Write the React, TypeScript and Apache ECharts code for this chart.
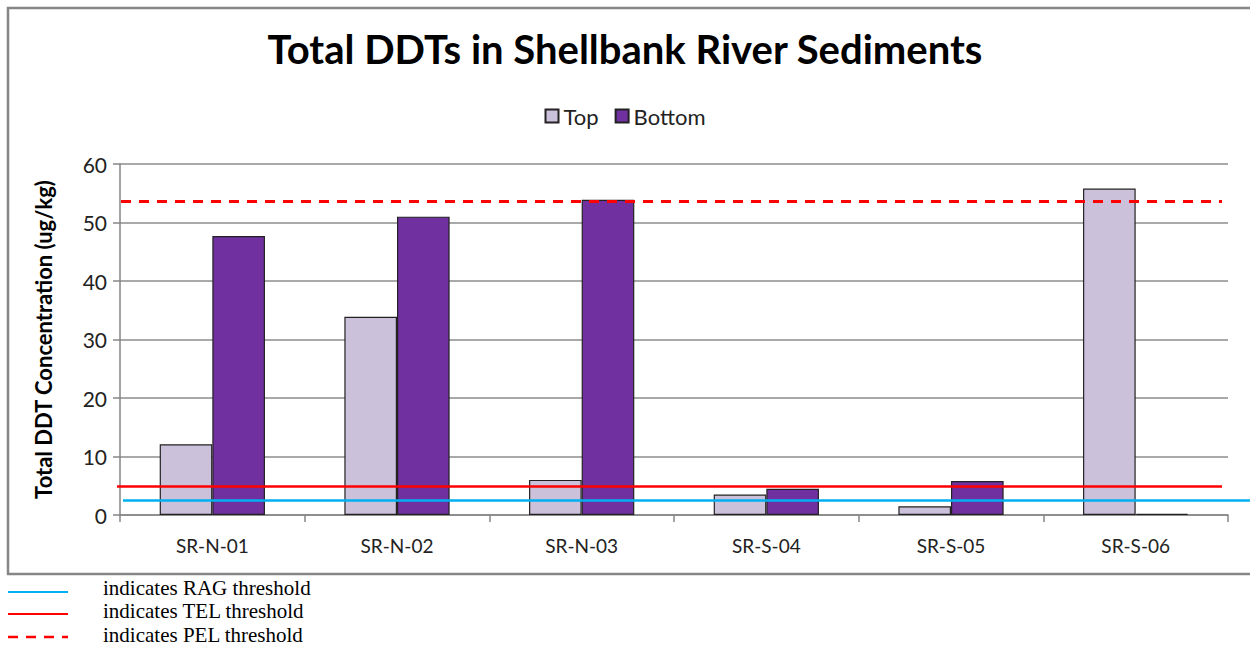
import React, { useEffect, useRef } from 'react';
import * as echarts from 'echarts';

const categories = ['SR-N-01', 'SR-N-02', 'SR-N-03', 'SR-S-04', 'SR-S-05', 'SR-S-06'];
const topValues = [12.1, 33.9, 6.0, 3.5, 1.5, 55.8];
const bottomValues = [47.7, 51.0, 53.9, 4.5, 5.8, 0.2];
const ragThreshold = 2.5;
const telThreshold = 4.9;
const pelThreshold = 53.6;
const yMin = 0;
const yMax = 60;
const yInterval = 10;
const noteLabels = ['indicates RAG threshold', 'indicates TEL threshold', 'indicates PEL threshold'];

const FONT = 'Lato';

export default function App() {
  const ref = useRef<HTMLDivElement>(null);
  useEffect(() => {
    if (!ref.current) return;
    const chart = echarts.init(ref.current, undefined, { renderer: 'svg' });
    const noteLineY = [592, 614, 637];
    const noteTextY = [588, 611, 635];
    const noteStyles = [
      { stroke: '#00B0F0', lineWidth: 2, lineDash: undefined as any },
      { stroke: '#FF0000', lineWidth: 2, lineDash: undefined as any },
      { stroke: '#FF0000', lineWidth: 2.5, lineDash: [10, 8] },
    ];
    const graphics: any[] = [
      {
        type: 'rect',
        shape: { x: 8, y: 8, width: 1262, height: 566 },
        style: { fill: 'none', stroke: '#868686', lineWidth: 2.5 },
        z: -1,
        silent: true,
      },
    ];
    noteLabels.forEach((t, i) => {
      graphics.push({
        type: 'line',
        shape: { x1: 8, y1: noteLineY[i], x2: 68, y2: noteLineY[i] },
        style: noteStyles[i],
      });
      graphics.push({
        type: 'text',
        x: 103,
        y: noteTextY[i],
        style: {
          text: t,
          font: '21px "Liberation Serif"',
          fill: '#000',
          verticalAlign: 'middle',
        },
      });
    });

    chart.setOption({
      animation: false,
      title: {
        text: 'Total DDTs in Shellbank River Sediments',
        left: 'center',
        top: 24,
        textStyle: { fontFamily: FONT, fontSize: 40, fontWeight: 'bold', color: '#000' },
      },
      legend: {
        data: ['Top', 'Bottom'],
        top: 100,
        left: 'center',
        itemWidth: 13,
        itemHeight: 13,
        itemGap: 16,
        icon: 'rect',
        textStyle: { fontFamily: FONT, fontSize: 22, color: '#222', padding: [0, 0, 0, 0] },
      },
      grid: { left: 120, right: 22, top: 164, bottom: 132 },
      xAxis: {
        type: 'category',
        data: categories,
        axisLine: { lineStyle: { color: '#868686', width: 1.5 } },
        axisTick: { show: true, length: 7, lineStyle: { color: '#868686', width: 1.5 } },
        axisLabel: { fontFamily: FONT, fontSize: 19, color: '#222', margin: 21 },
      },
      yAxis: {
        type: 'value',
        min: yMin,
        max: yMax,
        interval: yInterval,
        name: 'Total DDT Concentration (ug/kg)',
        nameLocation: 'middle',
        nameGap: 66,
        nameTextStyle: { fontFamily: FONT, fontSize: 22, fontWeight: 'bold', color: '#000' },
        axisLine: { show: true, lineStyle: { color: '#868686', width: 1.5 } },
        axisTick: { show: true, length: 7, lineStyle: { color: '#868686', width: 1.5 } },
        axisLabel: { fontFamily: FONT, fontSize: 21, color: '#222', margin: 13 },
        splitLine: { lineStyle: { color: '#8c8c8c', width: 1.5 } },
      },
      series: [
        {
          name: 'Top',
          type: 'bar',
          data: topValues,
          barGap: '0%',
          barCategoryGap: '43%',
          itemStyle: { color: '#CCC1DA', borderColor: '#222', borderWidth: 1.2 },
        },
        {
          name: 'Bottom',
          type: 'bar',
          data: bottomValues,
          barGap: '0%',
          barCategoryGap: '43%',
          itemStyle: { color: '#7030A0', borderColor: '#222', borderWidth: 1.2 },
        },
        {
          name: 'thresholds',
          type: 'line',
          data: [],
          clip: false,
          silent: true,
          markLine: {
            silent: true,
            symbol: 'none',
            label: { show: false },
            animation: false,
            data: [
              [
                { x: 123, yAxis: ragThreshold, lineStyle: { color: '#00B0F0', width: 2.5, type: 'solid' } },
                { x: 1250, yAxis: ragThreshold },
              ],
              [
                { x: 117, yAxis: telThreshold, lineStyle: { color: '#FF0000', width: 2.5, type: 'solid' } },
                { x: 1222, yAxis: telThreshold },
              ],
              [
                { x: 121, yAxis: pelThreshold, lineStyle: { color: '#FF0000', width: 3, type: [10, 8] } },
                { x: 1222, yAxis: pelThreshold },
              ],
            ],
          },
        },
      ],
      graphic: graphics,
    });
    return () => chart.dispose();
  }, []);
  return (
    <div
      ref={ref}
      style={{ position: 'absolute', left: 0, top: 0, width: 1250, height: 647, background: '#fff' }}
    />
  );
}
